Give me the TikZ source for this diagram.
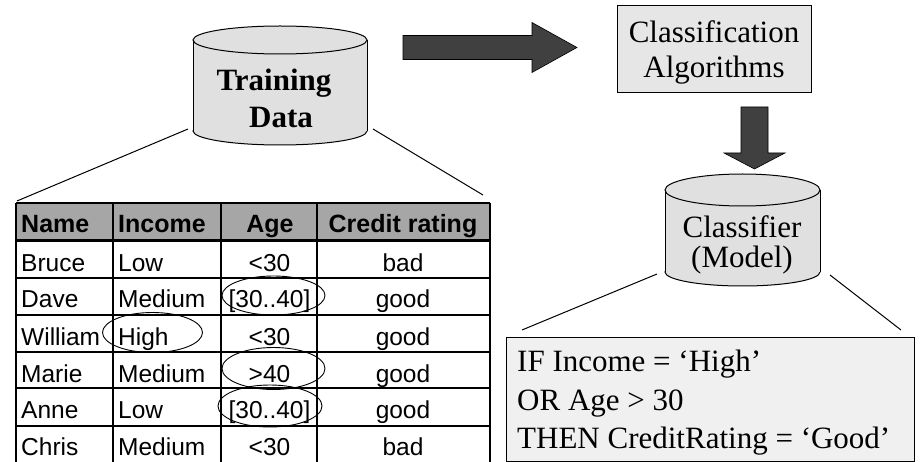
\documentclass[tikz,border=0pt]{standalone}
\usepackage{fontspec}
\setmainfont{Liberation Serif}
\newfontfamily\tabfont{Liberation Sans}

\definecolor{cylgray}{HTML}{E0E0E0}
\definecolor{boxgray}{HTML}{E6E6E6}
\definecolor{rulegray}{HTML}{F0F0F0}
\definecolor{headgray}{HTML}{A6A6A6}
\definecolor{arrowgray}{HTML}{404040}

\tikzset{
  serifbig/.style={font=\fontsize{31}{36}\selectfont, inner sep=0pt},
  serifbold/.style={font=\fontsize{31}{36}\selectfont\bfseries, inner sep=0pt},
  cellhead/.style={font=\tabfont\fontsize{25}{28}\selectfont\bfseries, inner sep=0pt},
  cell/.style={font=\tabfont\fontsize{24.5}{28}\selectfont, inner sep=0pt},
  gridline/.style={line width=2pt},
  thin/.style={line width=1pt},
  blockarrow/.style={fill=arrowgray, draw=black, line width=0.6pt},
  mark ellipse/.style={line width=0.9pt},
}

% database cylinder: left x, right x, top centre y, bottom centre y, top ry, bottom ry
\newcommand\dbdrum[6]{%
  \pgfmathsetmacro\drumrx{(#2-#1)/2}%
  \pgfmathsetmacro\drumcx{(#1+#2)/2}%
  \filldraw[fill=cylgray, thin] (\drumcx,#4) ellipse [x radius=\drumrx pt, y radius=#6 pt];
  \fill[cylgray] (#1,#3) rectangle (#2,#4);
  \draw[thin] (#1,#3) -- (#1,#4) (#2,#3) -- (#2,#4);
  \filldraw[fill=cylgray, thin] (\drumcx,#3) ellipse [x radius=\drumrx pt, y radius=#5 pt];
}

\begin{document}
\begin{tikzpicture}[x=1pt, y=-1pt]
\useasboundingbox (0,0) rectangle (924,462);

% ---------- training data store ----------
\dbdrum{193}{367}{40}{131}{14}{14}
\node[serifbold, anchor=base] (trainA) at (274,91) {Training};
\node[serifbold, anchor=base] (trainB) at (281,128) {Data};

% ---------- training table ----------
\begin{scope}
  \clip (0,190) rectangle (924,462);
  \fill[headgray] (16,203) rectangle (490,241);
  \foreach \yy in {203,278,315,352,388,426}
    \draw[gridline] (16,\yy) -- (490,\yy);
  \draw[line width=3pt] (16,241) -- (490,241);
  \foreach \xx in {16,113,221,317,490}
    \draw[gridline] (\xx,203) -- (\xx,470);
\end{scope}

\node[cellhead, anchor=base west] (hName)   at (21,233)  {Name};
\node[cellhead, anchor=base west] (hIncome) at (118,233) {Income};
\node[cellhead, anchor=base]      (hAge)    at (270,233) {Age};
\node[cellhead, anchor=base]      (hCredit) at (403,233) {Credit rating};

\foreach \nm/\inc/\age/\cr/\yy [count=\r] in {
    Bruce/Low/{<30}/bad/272,
    Dave/Medium/{[30..40]}/good/308,
    William/High/{<30}/good/345,
    Marie/Medium/{>40}/good/382,
    Anne/Low/{[30..40]}/good/418,
    Chris/Medium/{<30}/bad/455} {
  \node[cell, anchor=base west] (name\r)   at (21,\yy)    {\nm};
  \node[cell, anchor=base west] (income\r) at (118,\yy)   {\inc};
  \node[cell, anchor=base]      (age\r)    at (269.5,\yy) {\age};
  \node[cell, anchor=base]      (credit\r) at (403,\yy)   {\cr};
}

% values picked out by the rule
\draw[mark ellipse] (273.5,295.5) ellipse [x radius=51.5pt, y radius=19.5pt];
\draw[mark ellipse] (152.5,332.5) ellipse [x radius=50pt, y radius=20pt];
\draw[mark ellipse] (273.5,368.5) ellipse [x radius=51.5pt, y radius=21pt];
\draw[mark ellipse] (270,406)     ellipse [x radius=52pt, y radius=21pt];

% fan lines from the store to the table
\coordinate (tdL)  at (188,129);
\coordinate (tdR)  at (373,129);
\coordinate (tabL) at (17,201);
\coordinate (tabR) at (483,195);
\draw[thin] (tdL) -- (tabL);
\draw[thin] (tdR) -- (tabR);

% ---------- algorithm box ----------
\node[draw, thin, fill=boxgray, minimum width=194pt, minimum height=87pt, inner sep=0pt]
  (algo) at (714,49.5) {};
\node[serifbig, anchor=base] (algoA) at (714,43) {Classification};
\node[serifbig, anchor=base] (algoB) at (714,78) {Algorithms};

% big arrow: data -> algorithms
\filldraw[blockarrow] (403,35.5) -- (532,35.5) -- (532,22.5) -- (577,47.5)
  -- (532,72.5) -- (532,59.5) -- (403,59.5) -- cycle;

% big arrow: algorithms -> classifier
\filldraw[blockarrow] (741,107) -- (768,107) -- (768,153) -- (785,153)
  -- (754.5,169) -- (724,153) -- (741,153) -- cycle;

% ---------- classifier store ----------
\dbdrum{665}{820}{190}{272}{16}{14}
\node[serifbig, anchor=base] (clsA) at (742,238) {Classifier};
\node[serifbig, anchor=base] (clsB) at (742,268) {(Model)};

% ---------- rule box ----------
\node[draw, thin, fill=rulegray, minimum width=408pt, minimum height=123pt, inner sep=0pt]
  (rules) at (710.5,399.5) {};
\node[serifbig, anchor=base west] (ruleA) at (517,372) {IF Income = ‘High’};
\node[serifbig, anchor=base west] (ruleB) at (517,410) {OR Age > 30};
\node[serifbig, anchor=base west] (ruleC) at (517,448) {THEN CreditRating = ‘Good’};

\coordinate (clL)  at (657,274);
\coordinate (clR)  at (830,275);
\coordinate (ruL)  at (522,330);
\coordinate (ruR)  at (901,330);
\draw[thin] (clL) -- (ruL);
\draw[thin] (clR) -- (ruR);
\end{tikzpicture}
\end{document}
